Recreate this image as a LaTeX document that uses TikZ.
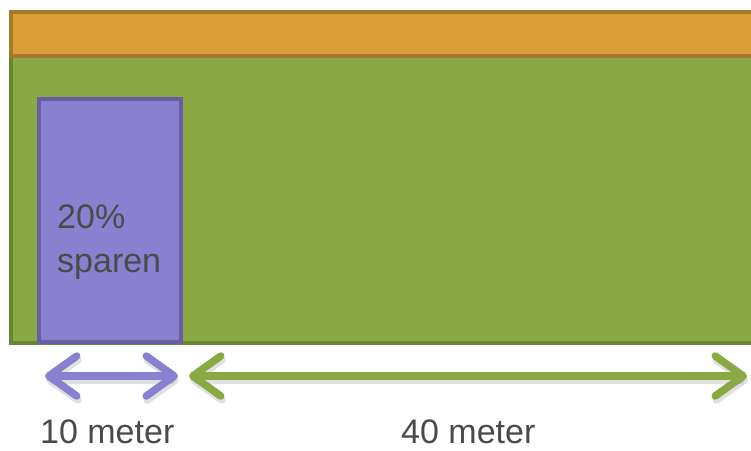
\documentclass[tikz,border=0pt]{standalone}
\usepackage{fontspec}
\setmainfont{Liberation Sans}
\usetikzlibrary{arrows.meta}
\definecolor{orangefill}{HTML}{D99E38}
\definecolor{orangeline}{HTML}{A37A2C}
\definecolor{greenfill}{HTML}{8AA843}
\definecolor{greenline}{HTML}{6A8434}
\definecolor{purplefill}{HTML}{8A80D0}
\definecolor{purpleline}{HTML}{685DA6}
\definecolor{txt}{HTML}{4A4A4A}
\tikzset{
  band/.style={line width=4pt},
  dimarrow/.style={line width=7.5pt, line cap=round, line join=round,
    {Straight Barb[length=28pt,width=40pt,round]}-{Straight Barb[length=28pt,width=40pt,round]}},
  arrshadow/.style={dimarrow, draw=black, opacity=0.12},
  lbl/.style={inner sep=0pt, anchor=base west, text=txt, font=\fontsize{34}{40}\selectfont}
}
\begin{document}
\begin{tikzpicture}[x=1pt,y=-1pt]
\useasboundingbox (0,0) rectangle (751,450);
\clip (0,0) rectangle (751,450);
\fill[white] (0,0) rectangle (751,450);
% field and top band
\draw[band, draw=greenline, fill=greenfill] (11,56) rectangle (790,343);
\draw[band, draw=orangeline, fill=orangefill] (11,12) rectangle (790,56);
% purple part
\draw[band, draw=purpleline, fill=purplefill] (38.5,99) rectangle (181,342);
\node[lbl] (pct) at (57,228) {20\%};
\node[lbl] (sp) at (57,272) {sparen};
% dimension arrows
\coordinate (pa) at (45,376);
\coordinate (pb) at (178,376);
\coordinate (ga) at (189,376);
\coordinate (gb) at (747,376);
\draw[arrshadow] ([shift={(1,4)}]pa) -- ([shift={(1,4)}]pb);
\draw[arrshadow] ([shift={(1,4)}]ga) -- ([shift={(1,4)}]gb);
\draw[dimarrow, draw=purplefill] (pa) -- (pb);
\draw[dimarrow, draw=greenfill] (ga) -- (gb);
\node[lbl] (ten) at (40,443) {10 meter};
\node[lbl] (forty) at (401,443) {40 meter};
\end{tikzpicture}
\end{document}
